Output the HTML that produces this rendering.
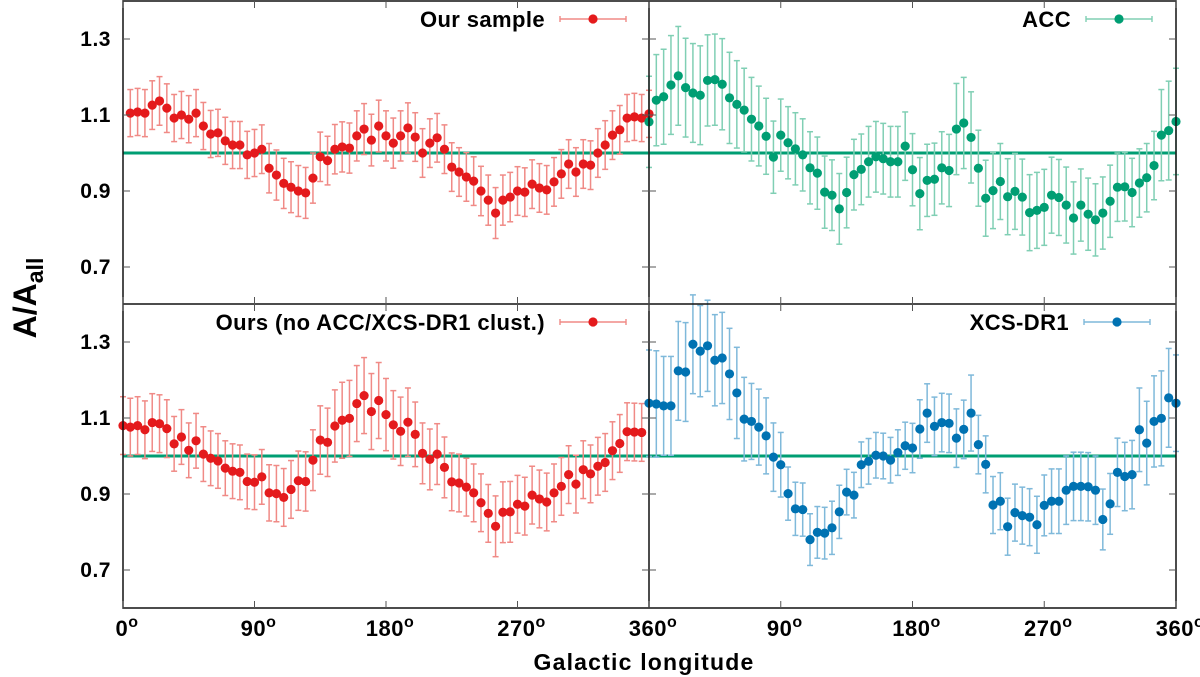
<!DOCTYPE html>
<html><head><meta charset="utf-8"><style>
html,body{margin:0;padding:0;background:#fff;}
svg{display:block;font-family:"Liberation Sans",sans-serif;}
</style></head><body>
<svg id="chart" width="1200" height="677" viewBox="0 0 1200 677" xmlns="http://www.w3.org/2000/svg"></svg>
<script>
// ---- data ----
const lonTopLeftStart = 5, lonBotLeftStart = 0, lonRightStart = 0, lonStep = 5;
const valsOurs = [1.105,1.108,1.105,1.126,1.137,1.118,1.092,1.10,1.089,1.105,1.071,1.05,1.053,1.032,1.021,1.021,0.995,1.0,1.01,0.96,0.942,0.92,0.91,0.90,0.895,0.934,0.99,0.98,1.01,1.016,1.013,1.045,1.063,1.034,1.071,1.045,1.026,1.045,1.066,1.042,1.0,1.026,1.04,1.01,0.963,0.95,0.937,0.926,0.9,0.876,0.842,0.876,0.884,0.90,0.897,0.918,0.908,0.903,0.924,0.945,0.971,0.95,0.971,0.968,1.0,1.021,1.047,1.061,1.092,1.095,1.092,1.103];
const errOurs = [0.062,0.062,0.062,0.064,0.064,0.064,0.062,0.062,0.062,0.062,0.062,0.062,0.062,0.062,0.062,0.062,0.062,0.062,0.064,0.065,0.066,0.066,0.067,0.067,0.067,0.066,0.065,0.064,0.065,0.066,0.066,0.066,0.067,0.068,0.068,0.066,0.066,0.066,0.066,0.064,0.064,0.064,0.064,0.064,0.064,0.064,0.064,0.064,0.065,0.066,0.067,0.066,0.065,0.064,0.064,0.064,0.064,0.064,0.064,0.064,0.064,0.064,0.064,0.064,0.064,0.064,0.064,0.064,0.062,0.062,0.062,0.062];
const valsOursNo = [1.080,1.076,1.080,1.069,1.088,1.085,1.072,1.032,1.050,1.015,1.040,1.005,0.994,0.987,0.968,0.960,0.957,0.933,0.931,0.945,0.903,0.901,0.891,0.912,0.935,0.933,0.989,1.042,1.036,1.079,1.094,1.099,1.138,1.159,1.117,1.146,1.109,1.082,1.065,1.089,1.057,1.007,0.991,1.005,0.970,0.932,0.929,0.918,0.903,0.877,0.849,0.815,0.852,0.853,0.873,0.868,0.897,0.887,0.879,0.903,0.920,0.951,0.926,0.964,0.953,0.973,0.983,1.014,1.033,1.064,1.063,1.062];
const errOursNo = [0.076,0.076,0.076,0.076,0.076,0.076,0.076,0.072,0.072,0.072,0.072,0.072,0.072,0.072,0.072,0.072,0.072,0.072,0.072,0.072,0.074,0.074,0.076,0.076,0.078,0.078,0.08,0.09,0.09,0.095,0.1,0.1,0.1,0.1,0.1,0.1,0.095,0.09,0.09,0.09,0.085,0.08,0.08,0.08,0.08,0.076,0.076,0.076,0.076,0.076,0.076,0.08,0.08,0.08,0.076,0.076,0.076,0.076,0.076,0.076,0.076,0.076,0.076,0.076,0.076,0.076,0.076,0.076,0.076,0.076,0.076,0.076];
const valsACC = [1.082,1.139,1.148,1.179,1.203,1.172,1.158,1.152,1.191,1.193,1.181,1.145,1.128,1.113,1.089,1.071,1.044,0.989,1.047,1.027,1.011,0.995,0.961,0.947,0.897,0.889,0.853,0.896,0.943,0.957,0.977,0.990,0.985,0.977,0.977,1.018,0.956,0.893,0.928,0.931,0.961,0.954,1.063,1.079,1.041,0.960,0.881,0.901,0.925,0.885,0.899,0.884,0.843,0.849,0.857,0.889,0.883,0.863,0.829,0.863,0.839,0.824,0.842,0.873,0.910,0.911,0.896,0.921,0.935,0.967,1.047,1.059,1.083];
const errACC = [0.12,0.12,0.125,0.13,0.13,0.13,0.13,0.13,0.12,0.12,0.12,0.12,0.115,0.11,0.11,0.105,0.1,0.095,0.095,0.095,0.095,0.095,0.095,0.095,0.095,0.093,0.093,0.093,0.093,0.093,0.093,0.093,0.093,0.093,0.093,0.09,0.095,0.095,0.095,0.095,0.095,0.095,0.12,0.12,0.12,0.1,0.1,0.1,0.1,0.1,0.1,0.1,0.1,0.1,0.1,0.1,0.1,0.1,0.095,0.095,0.095,0.095,0.095,0.095,0.09,0.09,0.09,0.09,0.09,0.09,0.12,0.13,0.14];
const valsXCS = [1.139,1.137,1.132,1.132,1.224,1.221,1.294,1.276,1.290,1.252,1.258,1.216,1.166,1.097,1.091,1.076,1.053,0.997,0.977,0.901,0.861,0.859,0.780,0.799,0.797,0.811,0.853,0.905,0.897,0.977,0.986,1.002,1.0,0.989,1.009,1.027,1.021,1.071,1.113,1.078,1.088,1.086,1.047,1.070,1.113,1.030,0.978,0.871,0.881,0.814,0.851,0.843,0.839,0.819,0.870,0.881,0.881,0.910,0.920,0.920,0.919,0.910,0.833,0.874,0.957,0.946,0.951,1.069,1.034,1.091,1.099,1.153,1.139];
const errXCS = [0.14,0.14,0.13,0.13,0.13,0.13,0.13,0.12,0.12,0.12,0.12,0.12,0.12,0.11,0.1,0.1,0.1,0.09,0.085,0.07,0.07,0.07,0.068,0.068,0.068,0.07,0.07,0.06,0.06,0.06,0.06,0.06,0.06,0.06,0.06,0.062,0.065,0.077,0.077,0.077,0.077,0.077,0.077,0.077,0.1,0.077,0.075,0.075,0.075,0.075,0.075,0.075,0.075,0.075,0.08,0.085,0.085,0.09,0.09,0.09,0.09,0.09,0.08,0.08,0.09,0.09,0.09,0.11,0.11,0.12,0.125,0.13,0.127];
const yTicks = [0.7, 0.9, 1.1, 1.3];
const yTickLabels = ["0.7","0.9","1.1","1.3"];
const xTicks = [0, 90, 180, 270, 360];
const xTickLabels = ["0","90","180","270","360"];

const NS = "http://www.w3.org/2000/svg";
const svg = document.getElementById('chart');
function mk(tag, attrs, parent){ const e=document.createElementNS(NS,tag); for(const k in attrs) e.setAttribute(k,attrs[k]); (parent||svg).appendChild(e); return e; }

const XL = {x0:123, x1:649}, XR = {x0:649, x1:1176};
const ROWS = [{top:1, bot:304, y1:153}, {top:304, bot:608, y1:456}];
const PXPERUNIT = 380;
function xScale(col, lon){ return col.x0 + (col.x1-col.x0)*lon/360; }
function yScale(row, v){ return row.y1 - (v-1)*PXPERUNIT; }

function panel(name, col, row, lon0, vals, errs, color, errColor, legend, legendRight){
  const g = mk('g', {});
  
  
  const ref = mk('line', {x1:col.x0, x2:col.x1, y1:yScale(row,1), y2:yScale(row,1), stroke:'#009e73', 'stroke-width':3}, g);
  
  
  for(let i=0;i<vals.length;i++){
    const lon = lon0 + lonStep*i;
    const x = xScale(col, lon), y = yScale(row, vals[i]);
    const ya = yScale(row, vals[i]+errs[i]), yb = yScale(row, vals[i]-errs[i]);
    const eb = mk('g', {stroke:errColor, 'stroke-width':1.5}, g);
    
    
    mk('line', {x1:x, x2:x, y1:ya, y2:yb}, eb);
    mk('line', {x1:x-3, x2:x+3, y1:ya, y2:ya}, eb);
    mk('line', {x1:x-3, x2:x+3, y1:yb, y2:yb}, eb);
    const c = mk('circle', {cx:x, cy:y, r:4.6, fill:color}, g);
    
    
  }
  const lg = mk('g', {}, g);
  
  
  const ly = row.top + 18;
  const t = mk('text', {x:legendRight, y:ly+8, 'text-anchor':'end', 'font-size':22, 'font-weight':'bold', fill:'#000', 'letter-spacing':'0.4'}, lg);
  t.textContent = legend;
  const lx0 = legendRight+15, lx1 = legendRight+81;
  mk('line', {x1:lx0, x2:lx1, y1:ly, y2:ly, stroke:errColor, 'stroke-width':1.4}, lg);
  mk('line', {x1:lx0, x2:lx0, y1:ly-3, y2:ly+3, stroke:errColor, 'stroke-width':1.4}, lg);
  mk('line', {x1:lx1, x2:lx1, y1:ly-3, y2:ly+3, stroke:errColor, 'stroke-width':1.4}, lg);
  mk('circle', {cx:(lx0+lx1)/2, cy:ly, r:4.6, fill:color}, lg);
}

panel('our-sample', XL, ROWS[0], lonTopLeftStart, valsOurs, errOurs, '#e41a1c', '#f08a86', 'Our sample', 545);
panel('acc', XR, ROWS[0], lonRightStart, valsACC, errACC, '#009e73', '#80cfb4', 'ACC', 1071);
panel('ours-no-acc-xcs', XL, ROWS[1], lonBotLeftStart, valsOursNo, errOursNo, '#e41a1c', '#f08a86', 'Ours (no ACC/XCS-DR1 clust.)', 545);
panel('xcs-dr1', XR, ROWS[1], lonRightStart, valsXCS, errXCS, '#0072b2', '#7fb9da', 'XCS-DR1', 1069);

const fr = mk('g', {stroke:'#111', 'stroke-width':1.5, fill:'none'});


mk('rect', {x:123, y:1, width:1053, height:607}, fr);
mk('line', {x1:649, x2:649, y1:1, y2:608}, fr);
mk('line', {x1:123, x2:1176, y1:304, y2:304}, fr);

const tk = mk('g', {stroke:'#555', 'stroke-width':1});


for(const row of ROWS){
  for(const col of [XL, XR]){
    for(const v of yTicks){
      const y = yScale(row, v);
      mk('line', {x1:col.x0, x2:col.x0+7, y1:y, y2:y}, tk);
      mk('line', {x1:col.x1-7, x2:col.x1, y1:y, y2:y}, tk);
    }
    for(const l of xTicks){
      const x = xScale(col, l);
      mk('line', {x1:x, x2:x, y1:row.bot-7, y2:row.bot}, tk);
      mk('line', {x1:x, x2:x, y1:row.top, y2:row.top+7}, tk);
    }
  }
}
for(const row of ROWS){
  yTicks.forEach((v,i)=>{
    const t = mk('text', {x:111, y:yScale(row,v)+7, 'text-anchor':'end', 'font-size':21, 'font-weight':'bold', fill:'#000', 'letter-spacing':'0.5'});
    
    
    t.textContent = yTickLabels[i];
  });
}
[XL, XR].forEach((col, ci)=>{
  xTicks.forEach((l,i)=>{
    if(ci===1 && i===0) return;
    const x = xScale(col, l);
    const t = mk('text', {x:x+4, y:636, 'text-anchor':'middle', 'font-size':22, 'font-weight':'bold', fill:'#000', 'letter-spacing':'0.5'});
    
    
    t.textContent = xTickLabels[i];
    const s = mk('tspan', {'font-size':16, dy:-9}, t);
    s.textContent = 'o';
  });
});
const xt = mk('text', {x:644, y:670, 'text-anchor':'middle', 'font-size':23, 'font-weight':'bold', fill:'#000', 'letter-spacing':'1.2'});


xt.textContent = 'Galactic longitude';
const yt = mk('text', {x:0, y:0, 'text-anchor':'middle', 'font-size':32, 'font-weight':'bold', fill:'#000', transform:'translate(36,298) rotate(-90)'});


yt.textContent = 'A/A';
const sub = mk('tspan', {'font-size':23, dy:7}, yt);
sub.textContent = 'all';
</script>
</body></html>
